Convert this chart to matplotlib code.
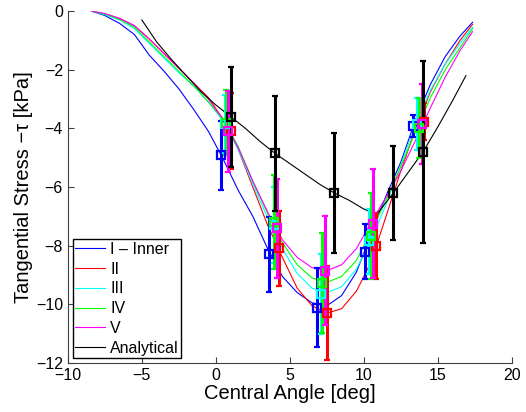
import matplotlib
matplotlib.use("Agg")
import matplotlib.pyplot as plt

plt.rcParams['font.family'] = ['Liberation Sans', 'DejaVu Sans']

# FEM curves, central angle [deg]
angle = [-8.4, -7.5, -6.5, -5.5, -4.5, -3.5, -2.5, -1.5, -0.5, 0.5, 1.5, 2.5, 3.5,
         4.5, 5.5, 6.5, 7.5, 8.5, 9.5, 10.5, 11.5, 12.5, 13.5, 14.5, 15.5, 16.5, 17.35]

tau_I = [0.0, -0.15, -0.42, -0.8, -1.5, -2.05, -2.65, -3.35, -4.1, -5.05, -6.1, -7.0, -8.1,
         -9.05, -9.6, -9.95, -10.05, -9.7, -8.9, -7.6, -6.3, -5.15, -3.7, -2.5, -1.55, -0.85, -0.38]
tau_II = [0.0, -0.1, -0.25, -0.5, -0.95, -1.45, -1.95, -2.45, -2.95, -3.7, -4.7, -6.0, -7.3,
          -8.4, -9.45, -10.05, -10.3, -10.15, -9.55, -8.55, -7.0, -5.45, -4.0, -2.75, -1.8, -1.0, -0.45]
tau_III = [0.0, -0.12, -0.3, -0.6, -1.1, -1.6, -2.1, -2.55, -3.1, -3.75, -4.7, -5.9, -7.05,
           -8.1, -8.95, -9.45, -9.6, -9.4, -8.8, -7.8, -6.6, -5.25, -3.85, -2.7, -1.8, -1.1, -0.55]
tau_IV = [0.0, -0.1, -0.28, -0.55, -1.05, -1.55, -2.05, -2.55, -3.1, -3.7, -4.6, -5.8, -6.9,
          -7.9, -8.65, -9.1, -9.25, -9.05, -8.5, -7.5, -6.45, -5.3, -4.1, -2.95, -2.0, -1.25, -0.6]
tau_V = [0.0, -0.08, -0.25, -0.5, -0.95, -1.45, -1.95, -2.45, -3.0, -3.7, -4.65, -5.8, -6.85,
         -7.8, -8.4, -8.75, -8.85, -8.65, -8.1, -7.2, -6.35, -5.45, -4.4, -3.3, -2.25, -1.35, -0.7]

# analytical solution
angle_an = [-5.0, -4.0, -3.0, -2.0, -1.0, 0.0, 1.0, 2.0, 3.0, 4.0, 5.0, 6.0, 7.0, 8.0, 9.0,
            10.0, 10.7, 11.0, 12.0, 13.0, 14.0, 15.0, 16.0, 16.9]
tau_an = [-0.3, -1.05, -1.65, -2.2, -2.75, -3.2, -3.6, -4.0, -4.45, -4.85, -5.2, -5.55, -5.9,
          -6.2, -6.45, -6.75, -6.9, -6.85, -6.2, -5.5, -4.8, -3.95, -3.05, -2.2]

# measurements with error bars
x_I = [0.35, 3.6, 6.85, 10.1, 13.35]
y_I = [-4.92, -8.3, -10.12, -8.2, -3.92]
e_I = [1.18, 1.27, 1.35, 0.95, 0.38]
x_II = [1.0, 4.25, 7.5, 10.8, 14.05]
y_II = [-4.1, -8.08, -10.3, -8.0, -3.77]
e_II = [1.3, 1.28, 1.6, 1.12, 0.63]
x_III = [0.6, 3.9, 7.1, 10.35, 13.6]
y_III = [-3.85, -7.3, -9.65, -7.85, -3.85]
e_III = [1.0, 1.3, 1.35, 1.1, 0.9]
x_IV = [0.7, 3.95, 7.2, 10.5, 13.75]
y_IV = [-3.8, -7.2, -9.27, -7.68, -4.0]
e_IV = [1.12, 1.6, 1.7, 1.47, 1.02]
x_V = [0.85, 4.1, 7.4, 10.65, 13.9]
y_V = [-4.1, -7.41, -8.85, -7.25, -3.85]
e_V = [1.38, 1.7, 1.85, 1.85, 1.37]
x_an = [1.0, 4.0, 8.0, 12.0, 14.0]
y_an = [-3.6, -4.85, -6.2, -6.2, -4.8]
e_an = [1.7, 1.95, 2.05, 1.6, 3.1]

labels = ['I \u2013 Inner', 'II', 'III', 'IV', 'V', 'Analytical']
colors = ['#0000ff', '#ff0000', '#00ffff', '#00ff00', '#ff00ff', '#000000']

curves = [(angle, tau_I), (angle, tau_II), (angle, tau_III), (angle, tau_IV), (angle, tau_V),
          (angle_an, tau_an)]
bars = [(x_I, y_I, e_I), (x_II, y_II, e_II), (x_III, y_III, e_III), (x_IV, y_IV, e_IV),
        (x_V, y_V, e_V), (x_an, y_an, e_an)]

fig = plt.figure(figsize=(5.26, 4.12), dpi=100)
ax = fig.add_axes([0.129, 0.119, 0.844, 0.854])

for (xc, yc), c, lab in zip(curves, colors, labels):
    ax.plot(xc, yc, color=c, lw=0.8, label=lab)

for (xb, yb, eb), c in zip(bars, colors):
    ax.errorbar(xb, yb, yerr=eb, fmt='s', color=c, mfc='none', mec=c, ms=5.5, mew=1.6,
                elinewidth=2.2, capsize=2.2, capthick=1.5)

ax.set_xlim(-10, 20)
ax.set_ylim(-12, 0)
ax.set_xticks(range(-10, 21, 5))
ax.set_yticks(range(-12, 1, 2))
ax.spines['top'].set_visible(False)
ax.spines['right'].set_visible(False)
for s in ['left', 'bottom']:
    ax.spines[s].set_color('#404040')
ax.tick_params(direction='in', length=4, labelsize=11.5, color='#404040')
ax.set_xlabel('Central Angle [deg]', fontsize=14.5, labelpad=1)
ax.set_ylabel('Tangential Stress \u2212\u03c4 [kPa]', fontsize=14.5, labelpad=2)

leg = ax.legend(loc='lower left', fontsize=11.5, fancybox=False, framealpha=1,
                edgecolor='black', handlelength=1.9, handletextpad=0.3,
                labelspacing=0.3, borderpad=0.15, borderaxespad=0.3)
leg.get_frame().set_linewidth(1.0)

fig.savefig('out.png', dpi=100)
